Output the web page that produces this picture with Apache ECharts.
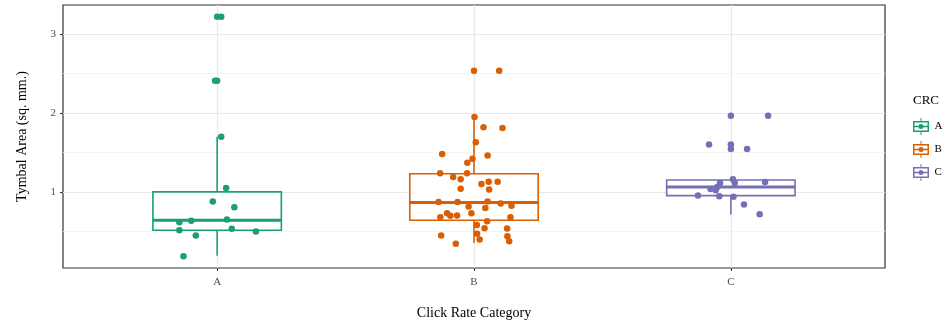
<!DOCTYPE html>
<html><head><meta charset="utf-8">
<script src="https://cdn.jsdelivr.net/npm/echarts@6/dist/echarts.min.js"></script>
<style>html,body{margin:0;padding:0;background:#fff}#c{width:948px;height:328px}</style>
</head><body><div id="c"></div>
<script>
const categories = ['A', 'B', 'C'];
const groupColors = ['#1b9e77', '#d95f02', '#7570b3'];
const yTicks = [1, 2, 3];
const yMinorTicks = [0.5, 1.5, 2.5];
const xTicks = [1, 2, 3];

// five-number summaries: [lower whisker, Q1, median, Q3, upper whisker]
const boxA = [0.19, 0.514, 0.64, 1.0, 1.70];
const boxB = [0.355, 0.64, 0.865, 1.23, 1.94];
const boxC = [0.713, 0.953, 1.063, 1.15, 1.16];

// outliers drawn by the boxplot at the group centre
const outliersA = [3.22, 2.41];
const outliersB = [2.535];
const outliersC = [1.966, 1.60, 1.545];

// jittered observations [x position, value]
const jitterA = [
  [1.035, 1.05], [0.983, 0.877], [1.067, 0.805], [0.853, 0.615], [0.899, 0.633],
  [1.038, 0.65], [0.853, 0.514], [1.057, 0.532], [0.917, 0.447], [1.151, 0.497],
  [0.869, 0.185], [1.016, 1.70], [0.992, 2.41], [1.016, 3.22]
];
const jitterB = [
  [2.098, 2.535], [2.002, 1.95], [2.037, 1.82], [2.111, 1.81], [2.007, 1.63],
  [1.876, 1.48], [2.053, 1.46], [1.994, 1.42], [1.974, 1.37], [1.868, 1.235],
  [1.973, 1.235], [1.919, 1.19], [1.948, 1.16], [2.057, 1.13], [2.092, 1.13],
  [2.029, 1.10], [1.948, 1.04], [2.059, 1.03], [1.862, 0.873], [1.936, 0.873],
  [2.053, 0.877], [2.104, 0.852], [2.146, 0.823], [1.979, 0.814], [2.044, 0.797],
  [1.990, 0.73], [1.895, 0.73], [1.908, 0.696], [1.934, 0.70], [1.869, 0.68],
  [2.142, 0.68], [2.051, 0.628], [2.011, 0.58], [2.041, 0.54], [2.129, 0.535],
  [2.012, 0.468], [1.872, 0.447], [2.130, 0.438], [2.022, 0.396], [2.137, 0.375],
  [1.929, 0.342]
];
const jitterC = [
  [3.145, 1.966], [2.915, 1.60], [3.063, 1.545], [3.008, 1.16], [3.133, 1.127],
  [2.958, 1.114], [3.015, 1.114], [2.947, 1.063], [2.921, 1.038], [2.941, 1.02],
  [2.872, 0.953], [2.955, 0.944], [3.010, 0.94], [3.051, 0.84], [3.112, 0.716]
];

const boxes = [boxA, boxB, boxC];
const outliers = [outliersA, outliersB, outliersC];
const jitters = [jitterA, jitterB, jitterC];

const FONT = "'Liberation Serif', 'Times New Roman', serif";
const KEY_ICON = 'path://M8,0H9V3H8Z M8,14H9V17H8Z M0.5,3H16.5V14H0.5Z M2,4.5V12.5H15V4.5Z M2,7.8H15V9.2H2Z M8.5,6A2.5,2.5 0 1,1 8.5,11A2.5,2.5 0 1,1 8.5,6Z';

function renderBox(params, api) {
  const x = api.value(0);
  const color = api.visual('color');
  const hw = 0.25;
  const pLow = api.coord([x, api.value(1)]);
  const pQ1 = api.coord([x, api.value(2)]);
  const pMed = api.coord([x, api.value(3)]);
  const pQ3 = api.coord([x, api.value(4)]);
  const pHigh = api.coord([x, api.value(5)]);
  const left = api.coord([x - hw, api.value(3)])[0];
  const right = api.coord([x + hw, api.value(3)])[0];
  return {
    type: 'group',
    children: [
      { type: 'line', shape: { x1: pQ3[0], y1: pQ3[1], x2: pHigh[0], y2: pHigh[1] }, style: { stroke: color, lineWidth: 1.6 } },
      { type: 'line', shape: { x1: pQ1[0], y1: pQ1[1], x2: pLow[0], y2: pLow[1] }, style: { stroke: color, lineWidth: 1.6 } },
      { type: 'rect', shape: { x: left, y: pQ3[1], width: right - left, height: pQ1[1] - pQ3[1] }, style: { fill: '#ffffff', stroke: color, lineWidth: 1.6 } },
      { type: 'line', shape: { x1: left, y1: pMed[1], x2: right, y2: pMed[1] }, style: { stroke: color, lineWidth: 3 } }
    ]
  };
}

const series = [];
categories.forEach((cat, i) => {
  const pos = xTicks[i];
  series.push({
    name: cat, type: 'custom', renderItem: renderBox, z: 2,
    itemStyle: { color: groupColors[i] },
    encode: { x: 0, y: [1, 2, 3, 4, 5] },
    data: [[pos].concat(boxes[i])],
    silent: true
  });
  series.push({
    name: cat, type: 'scatter', z: 3, symbol: 'circle', symbolSize: 6.5,
    itemStyle: { color: groupColors[i], opacity: 1 },
    data: outliers[i].map(v => [pos, v]),
    silent: true
  });
  series.push({
    name: cat, type: 'scatter', z: 4, symbol: 'circle', symbolSize: 6.5,
    itemStyle: { color: groupColors[i], opacity: 1 },
    data: jitters[i],
    silent: true
  });
});

const chart = echarts.init(document.getElementById('c'), null, { renderer: 'canvas' });
chart.setOption({
  animation: false,
  backgroundColor: '#ffffff',
  title: {
    text: 'CRC', left: 908, top: 89,
    textStyle: { fontFamily: FONT, fontSize: 13, fontWeight: 'normal', color: '#000' }
  },
  legend: {
    orient: 'vertical', left: 908, top: 113,
    itemWidth: 17, itemHeight: 17, itemGap: 6,
    icon: KEY_ICON, selectedMode: false,
    itemStyle: { borderWidth: 0 },
    textStyle: { fontFamily: FONT, fontSize: 11, color: '#000' },
    data: categories
  },
  grid: {
    left: 63, top: 5, width: 822, height: 263,
    show: true, borderColor: '#333333', borderWidth: 1.2, backgroundColor: '#ffffff'
  },
  xAxis: {
    type: 'value', min: 0.4, max: 3.6,
    name: 'Click Rate Category', nameLocation: 'middle', nameGap: 38,
    nameTextStyle: { fontFamily: FONT, fontSize: 14, color: '#000' },
    axisLine: { show: false },
    axisTick: { show: true, inside: false, length: 3, customValues: xTicks, lineStyle: { color: '#333333', width: 1.1 } },
    axisLabel: { customValues: xTicks, margin: 9, fontFamily: FONT, fontSize: 11, color: '#4d4d4d',
      formatter: v => categories[Math.round(v) - 1] },
    splitLine: { show: true, lineStyle: { color: '#e8e8e8', width: 1.2 } }
  },
  yAxis: [{
    type: 'value', min: 0.035, max: 3.37,
    name: 'Tymbal Area (sq. mm.)', nameLocation: 'middle', nameGap: 34,
    nameTextStyle: { fontFamily: FONT, fontSize: 14, color: '#000' },
    axisLine: { show: false },
    axisTick: { show: true, inside: false, length: 3, customValues: yTicks, lineStyle: { color: '#333333', width: 1.1 } },
    axisLabel: { customValues: yTicks, margin: 7, fontFamily: FONT, fontSize: 11, color: '#4d4d4d',
      formatter: v => String(v) },
    splitLine: { show: true, lineStyle: { color: '#e8e8e8', width: 1.2 } }
  }, {
    type: 'value', min: 0.035, max: 3.37, position: 'left',
    axisLine: { show: false },
    axisTick: { show: false, customValues: yMinorTicks },
    axisLabel: { show: false, customValues: yMinorTicks },
    splitLine: { show: true, lineStyle: { color: '#f2f2f2', width: 0.8 } }
  }],
  series: series
});
</script>
</body></html>
